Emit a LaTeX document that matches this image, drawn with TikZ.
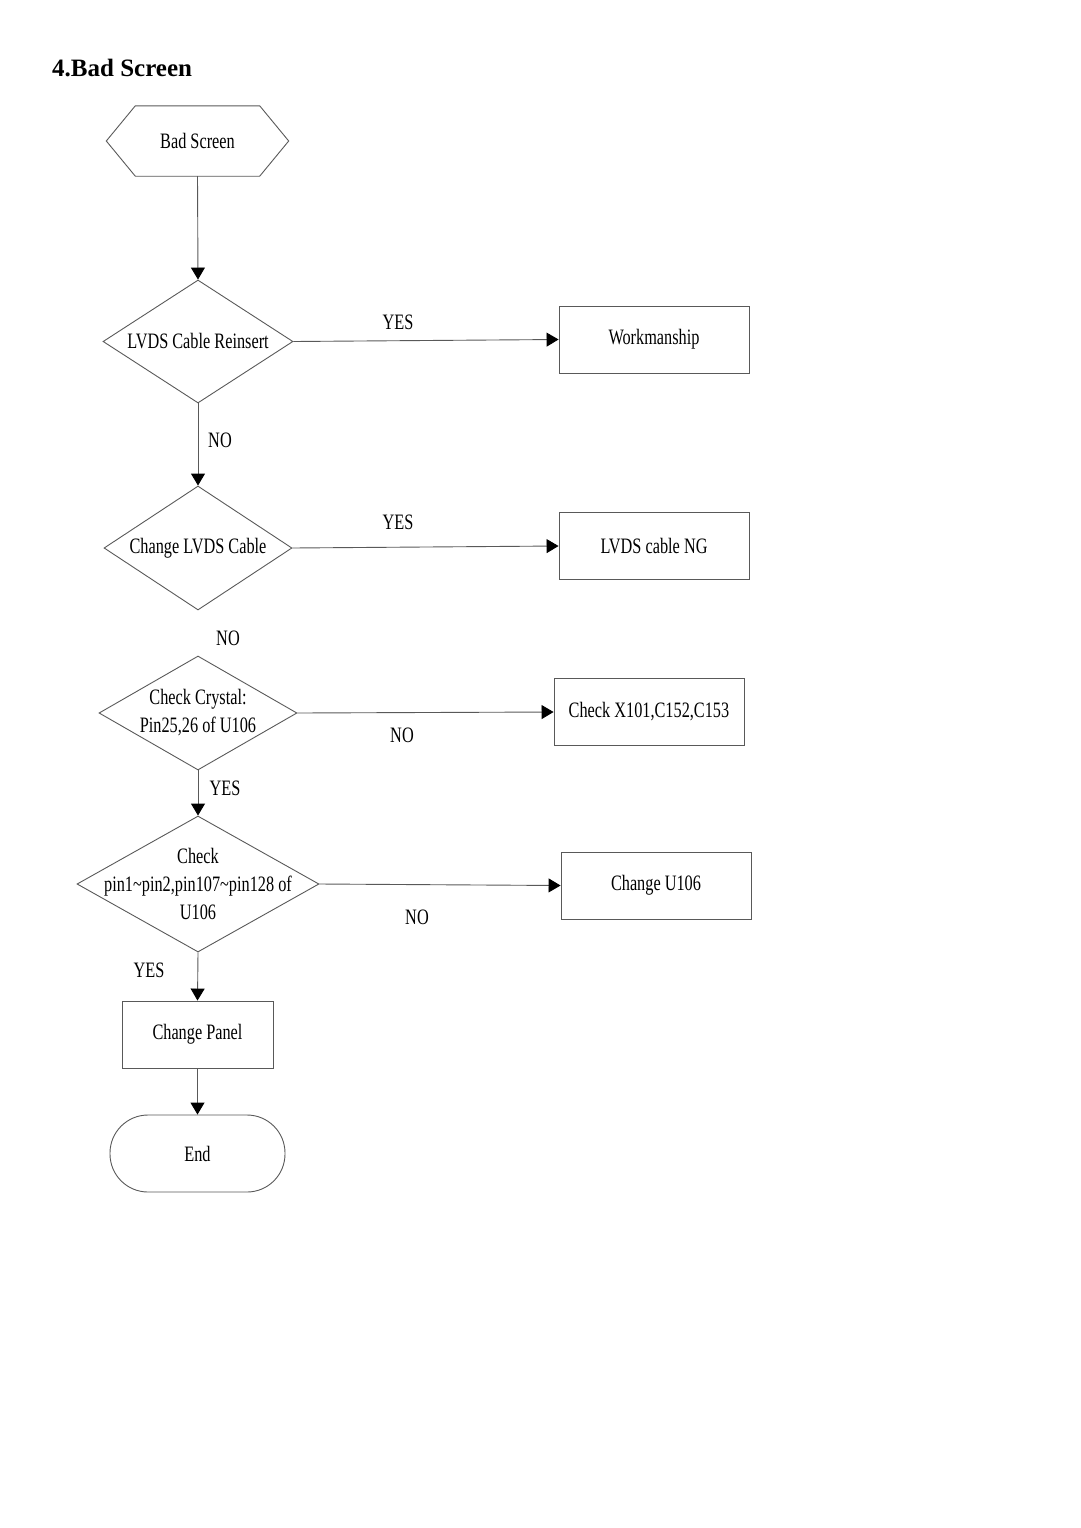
\documentclass[tikz,border=0pt]{standalone}
\usepackage{fontspec}
\setmainfont[FakeStretch=0.74]{Liberation Serif}
\newfontfamily\titlefont{Liberation Serif}
\usetikzlibrary{shapes.geometric,arrows.meta,calc}

\tikzset{
  linea/.style={draw=black!65,line width=0.9pt},
  freccia/.style={linea,-{Triangle[length=12pt,width=14pt,fill=black,color=black]}},
  scatola/.style={linea,rectangle,minimum width=190pt,minimum height=67pt,inner sep=0pt},
  rombo/.style={linea,diamond,inner sep=0pt},
}

\begin{document}
\begin{tikzpicture}[x=1pt,y=-1pt,font=\fontsize{22}{28}\selectfont]
\useasboundingbox (0,0) rectangle (1080,1528);

\node[anchor=base west,inner sep=0pt,font=\titlefont\fontsize{25}{28}\selectfont\bfseries] (titolo) at (52,77) {4.Bad Screen};

\node[minimum width=182pt,minimum height=70pt,inner sep=0pt] (inizio) at (197.5,141) {Bad Screen};
\draw[linea] ($(inizio.north west)+(29,0)$) -- ($(inizio.north east)+(-29,0)$) -- (inizio.east)
  -- ($(inizio.south east)+(-29,0)$) -- ($(inizio.south west)+(29,0)$) -- (inizio.west) -- cycle;

\node[rombo,minimum width=190pt,minimum height=123pt,label=center:LVDS Cable Reinsert] (ra) at (198,341.5) {};
\node[rombo,minimum width=188pt,minimum height=124pt,label=center:Change LVDS Cable] (rb) at (198,548) {};
\node[rombo,minimum width=198pt,minimum height=114pt,label={[align=center]center:{Check Crystal:\\Pin25,26 of U106}}] (rc) at (198,713) {};
\node[rombo,minimum width=242pt,minimum height=136pt,label={[align=center]center:{Check\\pin1\textasciitilde pin2,pin107\textasciitilde pin128 of\\U106}}] (rd) at (198,884) {};

\node[scatola] (sa) at (654,339.5) {Workmanship};
\node[scatola] (sb) at (654,546) {LVDS cable NG};
\node[scatola] (sc) at (649,712) {Check X101,C152,C153};
\node[scatola] (sd) at (656,885.5) {Change U106};
\node[scatola,minimum width=151pt] (pannello) at (197.5,1034.5) {Change Panel};
\node[linea,rectangle,rounded corners=38pt,minimum width=175pt,minimum height=77pt] (fine) at (197.5,1153.5) {End};

\node (sia) at (398,322) {YES};
\node (noa) at (220,440) {NO};
\node (sib) at (398,522) {YES};
\node (nob) at (228,638) {NO};
\node (noc) at (402,735) {NO};
\node (sic) at (225,788) {YES};
\node (nod) at (417,917) {NO};
\node (sid) at (149,970) {YES};

\draw[freccia] (inizio.south) -- (ra.north);
\draw[freccia] (ra.east) -- (sa.west);
\draw[freccia] (ra.south) -- (rb.north);
\draw[freccia] (rb.east) -- (sb.west);
\draw[freccia] (rc.east) -- (sc.west);
\draw[freccia] (rc.south) -- (rd.north);
\draw[freccia] (rd.east) -- (sd.west);
\draw[freccia] (rd.south) -- (pannello.north);
\draw[freccia] (pannello.south) -- (fine.north);

\end{tikzpicture}
\end{document}
